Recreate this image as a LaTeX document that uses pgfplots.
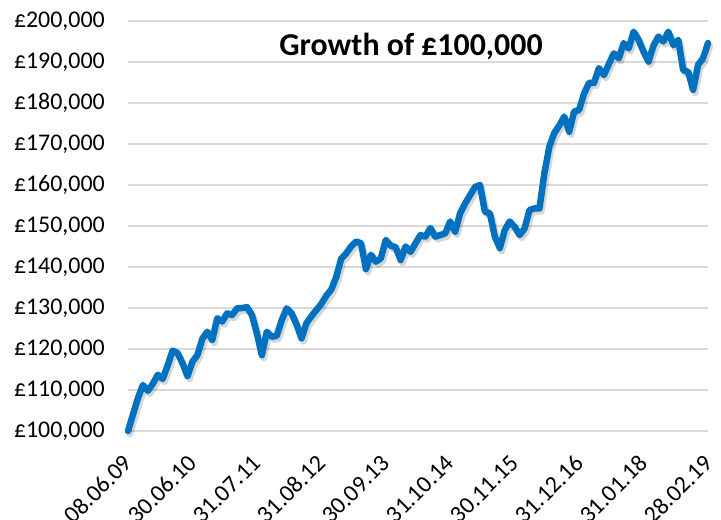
\documentclass[border=0pt]{standalone}
\usepackage{fontspec}
\setmainfont{Carlito}
\usepackage{pgfplots}
\pgfplotsset{compat=1.18}
\definecolor{lineblue}{RGB}{0,112,192}
\definecolor{gridgray}{RGB}{217,217,217}
\pgfplotstableread{
x y
0 100000
1 104000
2 108000
3 111200
4 109800
5 111500
6 113700
7 112700
8 116000
9 119600
10 119000
11 116500
12 113400
13 116900
14 118500
15 122500
16 124200
17 122200
18 127500
19 126700
20 128700
21 128300
22 129900
23 130000
24 130200
25 128300
26 123800
27 118500
28 124200
29 123000
30 123200
31 127000
32 129900
33 128700
34 126000
35 122600
36 126300
37 128000
38 129500
39 131000
40 133000
41 134500
42 137500
43 142000
44 143300
45 145000
46 146200
47 145800
48 139500
49 143000
50 141300
51 142100
52 146600
53 145200
54 144800
55 141700
56 145000
57 143700
58 145800
59 147800
60 147400
61 149500
62 147400
63 147800
64 148200
65 151100
66 148600
67 153100
68 155500
69 157500
70 159500
71 160000
72 153500
73 153100
74 147400
75 144600
76 149000
77 151100
78 149800
79 147800
80 149400
81 153900
82 154300
83 154300
84 162900
85 169400
86 172700
87 174500
88 176700
89 173000
90 177900
91 178300
92 182300
93 184900
94 184900
95 188500
96 186800
97 189500
98 192100
99 190900
100 194600
101 193300
102 197400
103 195400
104 192500
105 190100
106 194000
107 196200
108 195000
109 197400
110 194100
111 195400
112 188000
113 187600
114 183200
115 189300
116 190900
117 194600
}\growth
\begin{document}
\begin{tikzpicture}
\begin{axis}[
  scale only axis,
  width=580bp, height=410bp,
  xmin=0, xmax=117,
  ymin=100000, ymax=200000,
  xtick={0,13,26,39,52,65,78,91,104,117},
  xticklabels={08.06.09,30.06.10,31.07.11,31.08.12,30.09.13,31.10.14,30.11.15,31.12.16,31.01.18,28.02.19},
  ytick={100000,110000,120000,130000,140000,150000,160000,170000,180000,190000,200000},
  scaled y ticks=false,
  yticklabel={£\pgfmathprintnumber[fixed,precision=0,1000 sep={,},assume math mode=true]{\tick}},
  ymajorgrids,
  major grid style={draw=gridgray, line width=1.5bp},
  axis line style={draw=none},
  tick style={draw=none},
  yticklabel style={font=\fontsize{24}{28}\selectfont, anchor=east, inner sep=0pt, xshift=-23bp},
  xticklabel style={font=\fontsize{24}{28}\selectfont, yshift=-28bp, xshift=0bp, rotate=45, anchor=east, inner sep=0pt},
  clip=false,
]
\addplot[draw=black, opacity=0.16, line width=6.5bp, line join=round, line cap=round, shift={(2bp,-3bp)}] table {\growth};
\addplot[draw=lineblue, line width=6.5bp, line join=round, line cap=round] table {\growth};
\end{axis}
\node[font=\bfseries\fontsize{32}{38}\selectfont] at (283bp,385bp) {Growth of £100,000};
\pgfresetboundingbox
\useasboundingbox (-128bp,-89bp) rectangle (593bp,431bp);
\end{tikzpicture}
\end{document}
